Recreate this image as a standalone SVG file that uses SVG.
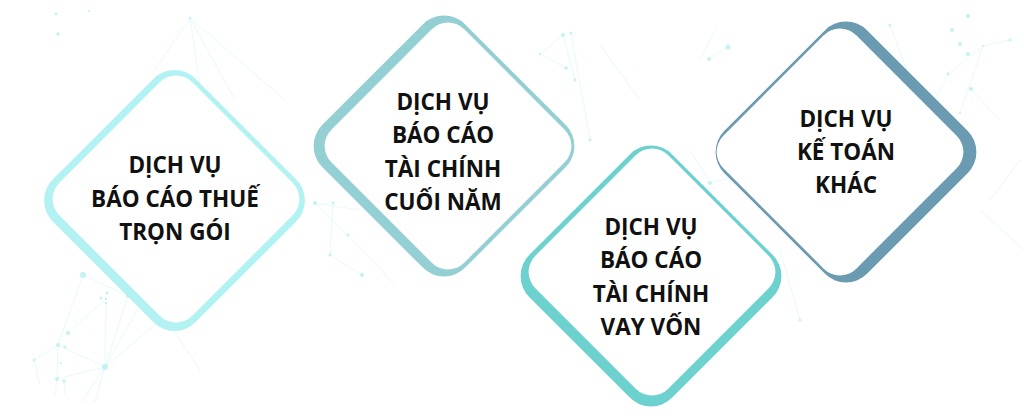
<svg xmlns="http://www.w3.org/2000/svg" width="1024" height="416" viewBox="0 0 1024 416">
  <style>
    .bg-line { stroke: #e1f8f9; stroke-width: 0.8; fill: none; }
    .bg-dot { fill: #c4f1f4; }
    .inner { fill: #ffffff; }
    .label { font-family: "Open Sans", "Noto Sans", "DejaVu Sans", sans-serif; font-weight: 700; font-size: 22.5px; fill: #111111; text-anchor: middle; }
  </style>
  <defs>
    <rect id="outerShape" x="-101" y="-101" width="202" height="202" rx="30" ry="30"/>
    <rect id="innerShape" x="-94" y="-94" width="188" height="188" rx="23" ry="23"/>
  </defs>
  <rect width="1024" height="416" fill="#ffffff"/>

  <g id="background">
    <g class="bg-line">
      <line x1="190" y1="18" x2="155" y2="70"/>
      <line x1="190" y1="18" x2="200" y2="85"/>
      <line x1="190" y1="18" x2="235" y2="100"/>
      <line x1="190" y1="18" x2="285" y2="100"/>
      <line x1="83" y1="275" x2="58" y2="345"/>
      <line x1="83" y1="275" x2="128" y2="296"/>
      <line x1="106" y1="299" x2="68" y2="333"/>
      <line x1="106" y1="303" x2="105" y2="367"/>
      <line x1="128" y1="296" x2="105" y2="367"/>
      <line x1="58" y1="345" x2="105" y2="367"/>
      <line x1="34" y1="360" x2="58" y2="345"/>
      <line x1="34" y1="360" x2="40" y2="385"/>
      <line x1="57" y1="379" x2="105" y2="367"/>
      <line x1="105" y1="367" x2="140" y2="305"/>
      <line x1="105" y1="367" x2="158" y2="322"/>
      <line x1="105" y1="367" x2="82" y2="402"/>
      <line x1="105" y1="367" x2="95" y2="402"/>
      <line x1="58" y1="345" x2="57" y2="379"/>
      <line x1="57" y1="379" x2="55" y2="395"/>
      <line x1="64" y1="381" x2="65" y2="395"/>
      <line x1="173" y1="330" x2="200" y2="370"/>
      <line x1="315" y1="203" x2="348" y2="235"/>
      <line x1="315" y1="203" x2="360" y2="210"/>
      <line x1="333" y1="203" x2="330" y2="255"/>
      <line x1="348" y1="235" x2="395" y2="285"/>
      <line x1="330" y1="255" x2="362" y2="275"/>
      <line x1="563" y1="35" x2="540" y2="54"/>
      <line x1="563" y1="35" x2="575" y2="80"/>
      <line x1="571" y1="33" x2="590" y2="140"/>
      <line x1="540" y1="54" x2="566" y2="68"/>
      <line x1="600" y1="45" x2="640" y2="100"/>
      <line x1="710" y1="183" x2="760" y2="170"/>
      <line x1="710" y1="183" x2="690" y2="150"/>
      <line x1="780" y1="250" x2="800" y2="320"/>
      <line x1="728" y1="47" x2="709" y2="59"/>
      <line x1="717" y1="26" x2="700" y2="60"/>
      <line x1="890" y1="25" x2="910" y2="80"/>
      <line x1="983" y1="46" x2="948" y2="74"/>
      <line x1="983" y1="46" x2="960" y2="113"/>
      <line x1="983" y1="46" x2="1010" y2="40"/>
      <line x1="948" y1="74" x2="930" y2="110"/>
      <line x1="971" y1="89" x2="1000" y2="120"/>
      <line x1="990" y1="200" x2="1020" y2="160"/>
      <line x1="980" y1="210" x2="1024" y2="250"/>
    </g>
    <g class="bg-dot">
      <circle cx="56" cy="14" r="1.5"/>
      <circle cx="89" cy="11" r="1"/>
      <circle cx="58" cy="34" r="1.8"/>
      <circle cx="190" cy="18" r="1.3"/>
      <circle cx="83" cy="275" r="3"/>
      <circle cx="120" cy="286" r="1.5"/>
      <circle cx="107" cy="293" r="1.4"/>
      <circle cx="101" cy="298" r="1.4"/>
      <circle cx="106" cy="299" r="1.2"/>
      <circle cx="106" cy="303" r="1.2"/>
      <circle cx="128" cy="296" r="2"/>
      <circle cx="68" cy="333" r="2"/>
      <circle cx="58" cy="345" r="2"/>
      <circle cx="65" cy="347" r="1.5"/>
      <circle cx="34" cy="360" r="1.3"/>
      <circle cx="61" cy="363" r="1"/>
      <circle cx="105" cy="367" r="3"/>
      <circle cx="57" cy="379" r="2"/>
      <circle cx="64" cy="381" r="1.8"/>
      <circle cx="315" cy="203" r="2"/>
      <circle cx="333" cy="203" r="1.5"/>
      <circle cx="348" cy="235" r="1.5"/>
      <circle cx="330" cy="255" r="1.5"/>
      <circle cx="362" cy="275" r="2"/>
      <circle cx="563" cy="35" r="2"/>
      <circle cx="571" cy="33" r="1.5"/>
      <circle cx="540" cy="54" r="1.2"/>
      <circle cx="566" cy="68" r="1.8"/>
      <circle cx="575" cy="80" r="1.5"/>
      <circle cx="590" cy="140" r="1.5"/>
      <circle cx="710" cy="183" r="2"/>
      <circle cx="728" cy="47" r="2.5"/>
      <circle cx="709" cy="59" r="2"/>
      <circle cx="890" cy="25" r="1.5"/>
      <circle cx="968" cy="16" r="2.2"/>
      <circle cx="952" cy="30" r="2"/>
      <circle cx="960" cy="44" r="2"/>
      <circle cx="968" cy="54" r="2"/>
      <circle cx="948" cy="74" r="1.5"/>
      <circle cx="971" cy="89" r="2"/>
      <circle cx="983" cy="46" r="1"/>
      <circle cx="960" cy="113" r="1"/>
      <circle cx="1010" cy="40" r="1.5"/>
      <circle cx="800" cy="320" r="1.5"/>
    </g>
  </g>

  <g id="connectors"></g>

  <g id="node-thue">
    <g transform="translate(174.5,200.5)">
      <use href="#outerShape" transform="rotate(45)" fill="#b3f2f2"/>
      <use href="#innerShape" class="inner" transform="translate(1.5,-1.5) rotate(45)"/>
    </g>
    <text class="label" x="175" y="173">DỊCH VỤ</text>
    <text class="label" x="175" y="207">BÁO CÁO THUẾ</text>
    <text class="label" x="175" y="240">TRỌN GÓI</text>
  </g>

  <g id="node-cuoinam">
    <g transform="translate(444,146)">
      <use href="#outerShape" transform="rotate(45)" fill="#94cfd3"/>
      <use href="#innerShape" class="inner" transform="translate(4,0) rotate(45)"/>
    </g>
    <text class="label" x="443" y="110">DỊCH VỤ</text>
    <text class="label" x="443" y="143">BÁO CÁO</text>
    <text class="label" x="443" y="177">TÀI CHÍNH</text>
    <text class="label" x="443" y="210">CUỐI NĂM</text>
  </g>

  <g id="node-vayvon">
    <g transform="translate(651,276)">
      <use href="#outerShape" transform="rotate(45)" fill="#6dd1d0"/>
      <use href="#innerShape" class="inner" transform="translate(1,-4) rotate(45)"/>
    </g>
    <text class="label" x="651" y="235">DỊCH VỤ</text>
    <text class="label" x="651" y="268">BÁO CÁO</text>
    <text class="label" x="651" y="302">TÀI CHÍNH</text>
    <text class="label" x="651" y="335">VAY VỐN</text>
  </g>

  <g id="node-ketoan">
    <g transform="translate(846,152)">
      <use href="#outerShape" transform="rotate(45)" fill="#6a9bb0"/>
      <use href="#innerShape" class="inner" transform="translate(-6,0) rotate(45)"/>
    </g>
    <text class="label" x="846" y="127">DỊCH VỤ</text>
    <text class="label" x="846" y="160">KẾ TOÁN</text>
    <text class="label" x="846" y="193">KHÁC</text>
  </g>
</svg>
